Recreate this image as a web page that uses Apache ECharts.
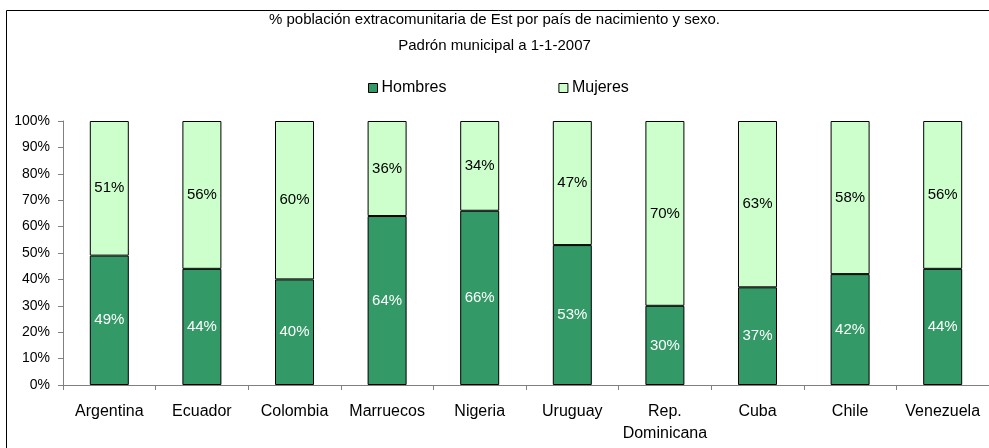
<!DOCTYPE html>
<html><head><meta charset="utf-8">
<script src="https://cdn.jsdelivr.net/npm/echarts@6/dist/echarts.min.js"></script>
<style>html,body{margin:0;padding:0;background:#fff}#c{width:989px;height:448px}</style>
</head><body><div id="c"></div>
<script>
const categories = ['Argentina','Ecuador','Colombia','Marruecos','Nigeria','Uruguay','Rep.\nDominicana','Cuba','Chile','Venezuela'];
const hombres = [49,44,40,64,66,53,30,37,42,44];
const mujeres = [51,56,60,36,34,47,70,63,58,56];
const yTicks = [0,10,20,30,40,50,60,70,80,90,100];

const FONT = 'Liberation Sans, Arial, sans-serif';
const chart = echarts.init(document.getElementById('c'), null, {renderer:'canvas'});
chart.setOption({
  animation:false,
  backgroundColor:'#fff',
  graphic:[
    {type:'polyline', shape:{points:[[6.5,460],[6.5,10.5],[995,10.5]]}, style:{stroke:'#000', lineWidth:1, fill:null}, silent:true}
  ],
  title:{
    text:'% población extracomunitaria de Est por país de nacimiento y sexo.\nPadrón municipal a 1-1-2007',
    left:'center', top:2,
    textStyle:{fontFamily:FONT, fontSize:15, fontWeight:'normal', color:'#000', lineHeight:26}
  },
  legend:{
    left:363, top:75, icon:'rect', itemWidth:9, itemHeight:9, itemGap:112,
    textStyle:{fontFamily:FONT, fontSize:16, color:'#000', padding:[0,0,0,-1]},
    data:[{name:'Hombres', itemStyle:{borderColor:'#000', borderWidth:1}},{name:'Mujeres', itemStyle:{borderColor:'#000', borderWidth:1}}]
  },
  grid:{left:63, top:121, width:935, height:264, containLabel:false},
  xAxis:{
    type:'category', data:categories,
    axisLine:{lineStyle:{color:'#808080', width:1}},
    axisTick:{show:true, length:5, lineStyle:{color:'#808080'}},
    axisLabel:{fontFamily:FONT, fontSize:16, color:'#000', margin:16, lineHeight:22, interval:0}
  },
  yAxis:{
    type:'value', min:0, max:100, interval:10,
    axisLine:{show:true, lineStyle:{color:'#808080'}},
    axisTick:{show:true, length:5, lineStyle:{color:'#808080'}},
    splitLine:{show:false},
    axisLabel:{fontFamily:FONT, fontSize:14, color:'#000', margin:13, formatter: v => yTicks.includes(v) ? v + '%' : ''}
  },
  series:[
    {name:'Hombres', type:'bar', stack:'s', data:hombres, barWidth:39,
     itemStyle:{color:'#339966', borderColor:'#000', borderWidth:1},
     label:{show:true, position:'inside', formatter:'{c}%', color:'#fff', fontFamily:FONT, fontSize:15}},
    {name:'Mujeres', type:'bar', stack:'s', data:mujeres, barWidth:39,
     itemStyle:{color:'#CCFFCC', borderColor:'#000', borderWidth:1},
     label:{show:true, position:'inside', formatter:'{c}%', color:'#000', fontFamily:FONT, fontSize:15}}
  ]
});
</script></body></html>
